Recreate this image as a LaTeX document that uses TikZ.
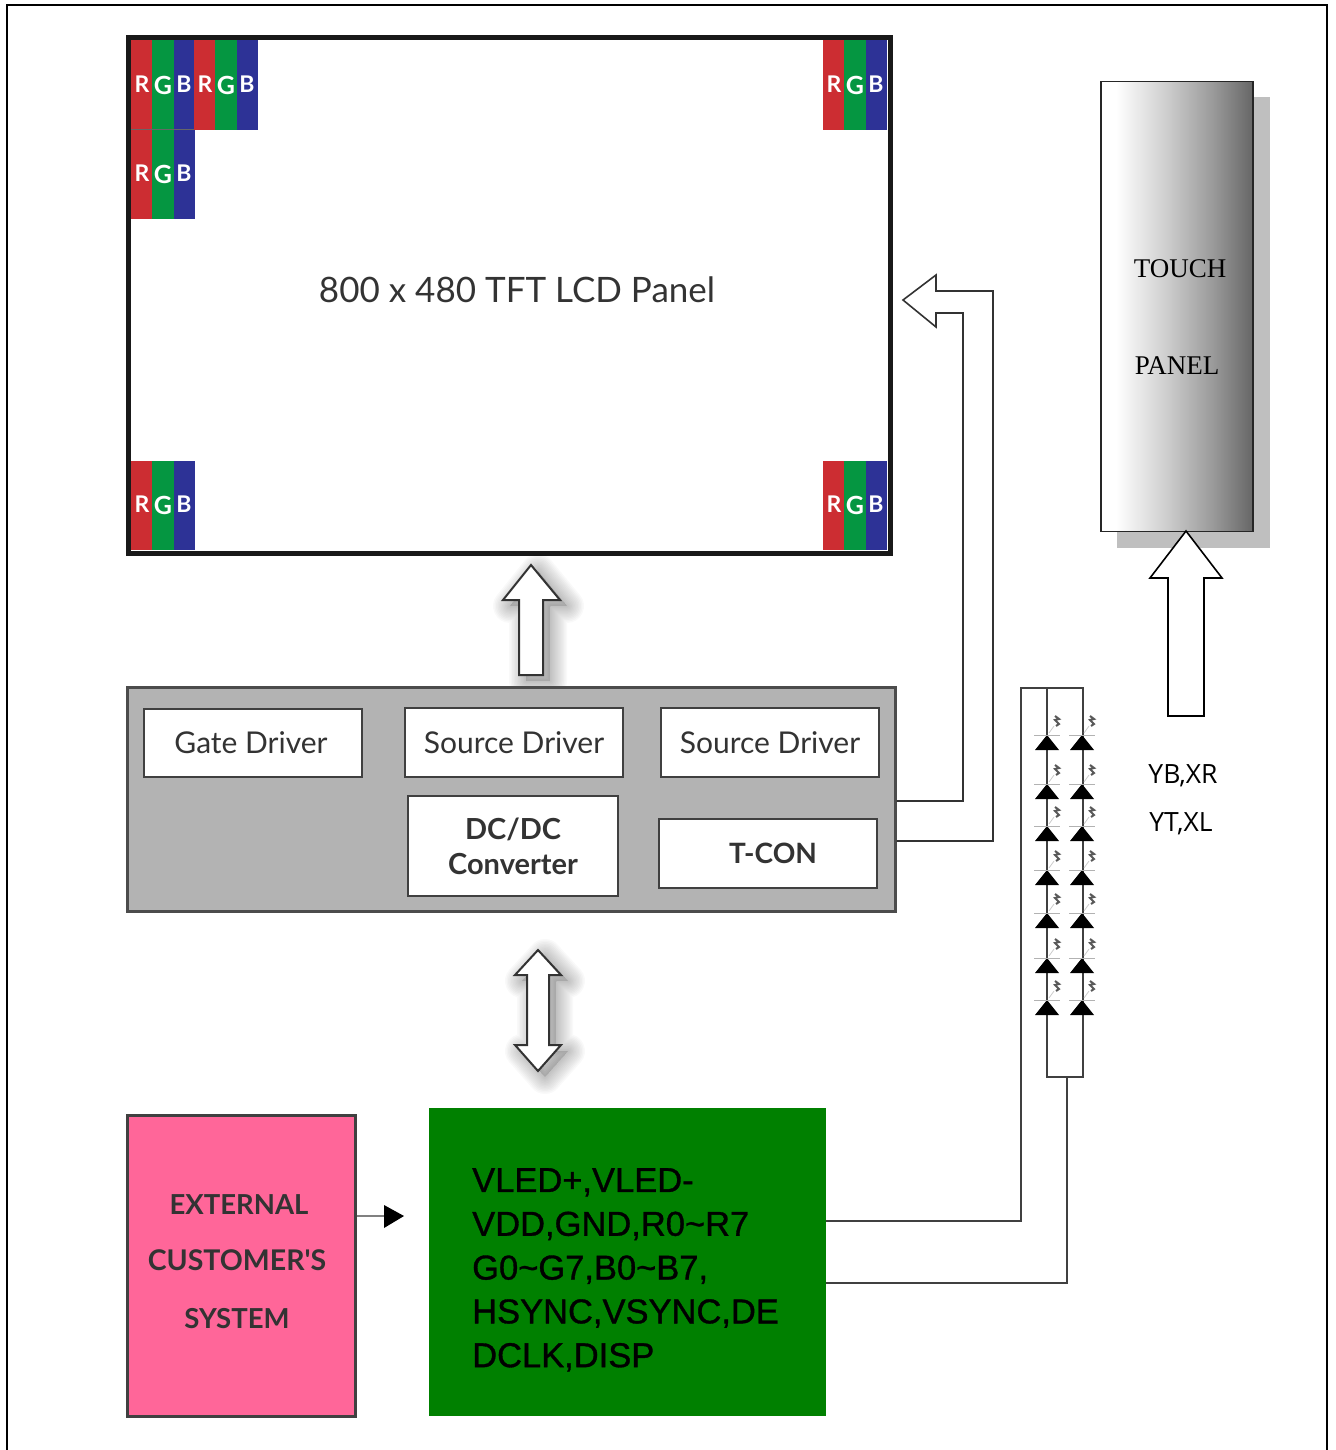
\documentclass[tikz,border=0pt]{standalone}
\usepackage{fontspec}
\setmainfont{Lato}
\newfontfamily\serifpanel{Liberation Serif}
\newfontfamily\labelfont{Open Sans}
\newfontfamily\signalfont[FakeBold=1]{Liberation Sans}
\usepackage{xcolor}
\usetikzlibrary{arrows.meta,positioning,calc}
\definecolor{pixelred}{RGB}{204,45,50}
\definecolor{pixelgreen}{RGB}{5,150,65}
\definecolor{pixelblue}{RGB}{45,50,150}
\definecolor{driverpanel}{RGB}{179,179,179}
\definecolor{hostpink}{RGB}{255,102,153}
\definecolor{fpcgreen}{RGB}{0,128,0}
\pgfdeclarehorizontalshading{tubeshade}{100bp}{color(0bp)=(white);color(25bp)=(white);color(30bp)=(white);color(47bp)=(black!20);color(62bp)=(black!40);color(75bp)=(black!60);color(100bp)=(black!60)}
\tikzset{
  drvbox/.style={draw=black!75,line width=1.6pt,fill=white,inner sep=0pt,align=center,text=black!80,font=\fontsize{30}{37}\selectfont},
  wire/.style={draw=black!75,line width=1.6pt},
  blockarrow/.style={draw=black!80,line width=1.6pt,fill=white,line join=miter},
  led/.style={fill=black},
}
% one RGB triple, top-left corner and height
\newcommand{\rgbtriple}[3]{
  \fill[pixelred] (#1,#2) rectangle ++(21,#3);
  \fill[pixelgreen] (#1+21,#2) rectangle ++(22,#3);
  \fill[pixelblue] (#1+43,#2) rectangle ++(21,#3);
  \node[text=white,font=\bfseries\fontsize{23}{23}\selectfont,inner sep=0pt] at (#1+11,#2+#3/2-1) {R};
  \node[text=white,font=\bfseries\fontsize{25}{25}\selectfont,inner sep=0pt] at (#1+32,#2+#3/2) {G};
  \node[text=white,font=\bfseries\fontsize{23}{23}\selectfont,inner sep=0pt] at (#1+53,#2+#3/2-1) {B};
}
% soft shadow, then the arrow
\newcommand{\softarrow}[1]{
  \foreach \r in {1,4,...,34}{
    \fill[black,fill opacity=0.012,shift={(7,6)}] plot coordinates {#1} -- cycle;
    \draw[black,draw opacity=0.022,line width=\r pt,line join=round,shift={(7,6)}] plot coordinates {#1} -- cycle;
  }
  \draw[blockarrow,line width=2pt] plot coordinates {#1} -- cycle;
}
\begin{document}
\begin{tikzpicture}[x=1pt,y=-1pt]
    \useasboundingbox (0,0) rectangle (1335,1450);
    % Frame
    \draw[line width=1.6pt] (7,1450) -- (7,5) -- (1327,5) -- (1327,1450);

    % LCD panel
    \node[draw=black!90,line width=5pt,minimum width=762pt,minimum height=515pt,inner sep=0pt] (panel) at (509.5,295.5) {};
    \node[font=\fontsize{35}{42}\selectfont,text=black!80,inner sep=0pt] (paneltext) at (517,290) {800 x 480 TFT LCD Panel};
    \rgbtriple{131}{40}{90}
    \rgbtriple{194}{40}{90}
    \rgbtriple{131}{130}{89}
    \rgbtriple{823}{40}{90}
    \rgbtriple{131}{461}{89}
    \rgbtriple{823}{461}{89}
    \draw[black!60,line width=1pt] (131,130) -- (194,130);

    % Up and double arrows
    \softarrow{(531,565) (560,600) (543,600) (543,675) (519,675) (519,600) (503,600) (531,565)}
    \softarrow{(538,950) (561,975) (549,975) (549,1045) (561,1045) (538,1071) (515,1045) (527,1045) (527,975) (515,975) (538,950)}

    % Driver board
    \node[draw=black!70,fill=driverpanel,line width=3pt,minimum width=768pt,minimum height=224pt,inner sep=0pt] (board) at (511,799) {};
    \node[drvbox,minimum width=218pt,minimum height=68pt] (gate) at (253,743) {\hspace*{-4pt}Gate Driver};
    \node[drvbox,minimum width=218pt,minimum height=69pt] (sourcea) at (514,742.5) {Source Driver};
    \node[drvbox,minimum width=218pt,minimum height=69pt] (sourceb) at (770,742.5) {Source Driver};
    \node[drvbox,minimum width=210pt,minimum height=100pt,font=\bfseries\fontsize{29}{35}\selectfont] (dcdc) at (513,846) {DC/DC\\Converter};
    \node[drvbox,minimum width=218pt,minimum height=69pt,font=\bfseries\fontsize{28}{35}\selectfont] (tcon) at (768,853.5) {\hspace*{10pt}T-CON};

    % Arrow to panel
    \draw[blockarrow,fill=none] (board.east |- 0,841) -- (993,841) -- (993,291) -- (936,291) -- (936,275) -- (903,300) -- (936,327) -- (936,313) -- (963,313) -- (963,801) -- (board.east |- 0,801);

    % Touch panel
    \fill[gray!50] (1117,97) rectangle (1270,548);
    \node[draw=black!85,line width=1.6pt,shading=tubeshade,minimum width=152pt,minimum height=450pt,inner sep=0pt] (touch) at (1177,306.5) {};
    \node[font=\serifpanel\fontsize{27}{32}\selectfont,inner sep=0pt] (toucha) at (1180,269) {TOUCH};
    \node[font=\serifpanel\fontsize{27}{32}\selectfont,inner sep=0pt] (touchb) at (1177,366) {PANEL};
    \draw[blockarrow,draw=black] (1186,531) -- (1222,578) -- (1204,578) -- (1204,716) -- (1168,716) -- (1168,578) -- (1150,578) -- cycle;
    \node[font=\labelfont\fontsize{26.5}{30}\selectfont,inner sep=0pt] (yb) at (1183,776) {YB,XR};
    \node[font=\labelfont\fontsize{26.5}{30}\selectfont,inner sep=0pt] (yt) at (1181,824) {YT,XL};

    % Host and FPC
    \node[draw=black!75,fill=hostpink,line width=3pt,minimum width=228pt,minimum height=301pt,inner sep=0pt] (host) at (241,1265.5) {};
    \node[font=\bfseries\fontsize{27.5}{36}\selectfont,text=black!80,inner sep=0pt] (hosta) at (239,1205) {EXTERNAL};
    \node[font=\bfseries\fontsize{28.5}{36}\selectfont,text=black!80,inner sep=0pt] (hostb) at (237,1260) {CUSTOMER\textquotesingle S};
    \node[font=\bfseries\fontsize{27.5}{36}\selectfont,text=black!80,inner sep=0pt] (hostc) at (237,1319) {SYSTEM};
    \node[fill=fpcgreen,minimum width=397pt,minimum height=308pt,inner sep=0pt] (fpc) at (627.5,1262) {};
    \node[anchor=north west,align=left,inner sep=0pt,font=\signalfont\fontsize{34.5}{43.8}\selectfont,text=black] (signals) at (472,1168) {VLED+,VLED-\\VDD,GND,R0\textasciitilde R7\\G0\textasciitilde G7,B0\textasciitilde B7,\\HSYNC,VSYNC,DE\\DCLK,DISP};
    \coordinate (hostout) at (host.east |- 0,1216);
    \coordinate (fpcin) at (404,1216);
    \draw[draw=black!50,line width=1.4pt] (hostout) -- (385,1216);
    \fill (fpcin) -- (384,1205) -- (384,1228) -- cycle;

    % LED strings
    \draw[wire] (fpc.east |- 0,1221) -- (1021,1221) -- (1021,688) -- (1083,688) -- (1083,1077) -- (1047,1077) -- (1047,688);
    \draw[wire] (fpc.east |- 0,1283) -- (1067,1283) -- (1067,1077);
    \foreach \ly in {735,784,826,870,913,958,1000}{
      \foreach \lx in {1047,1082}{
        \fill[led] (\lx,\ly) -- (\lx+12,\ly+15) -- (\lx-12,\ly+15) -- cycle;
        \draw[black!30,line width=0.8pt] (\lx-13,\ly) -- (\lx+13,\ly);
        \draw[black!20,line width=0.8pt] (\lx+2,\ly-2) -- (\lx+7,\ly-9);
        \draw[black!65,line width=2pt] (\lx+8,\ly-19) -- (\lx+12,\ly-16) -- (\lx+8,\ly-15) -- (\lx+12,\ly-11) -- (\lx+9,\ly-9);
      }
    }
\end{tikzpicture}
\end{document}
